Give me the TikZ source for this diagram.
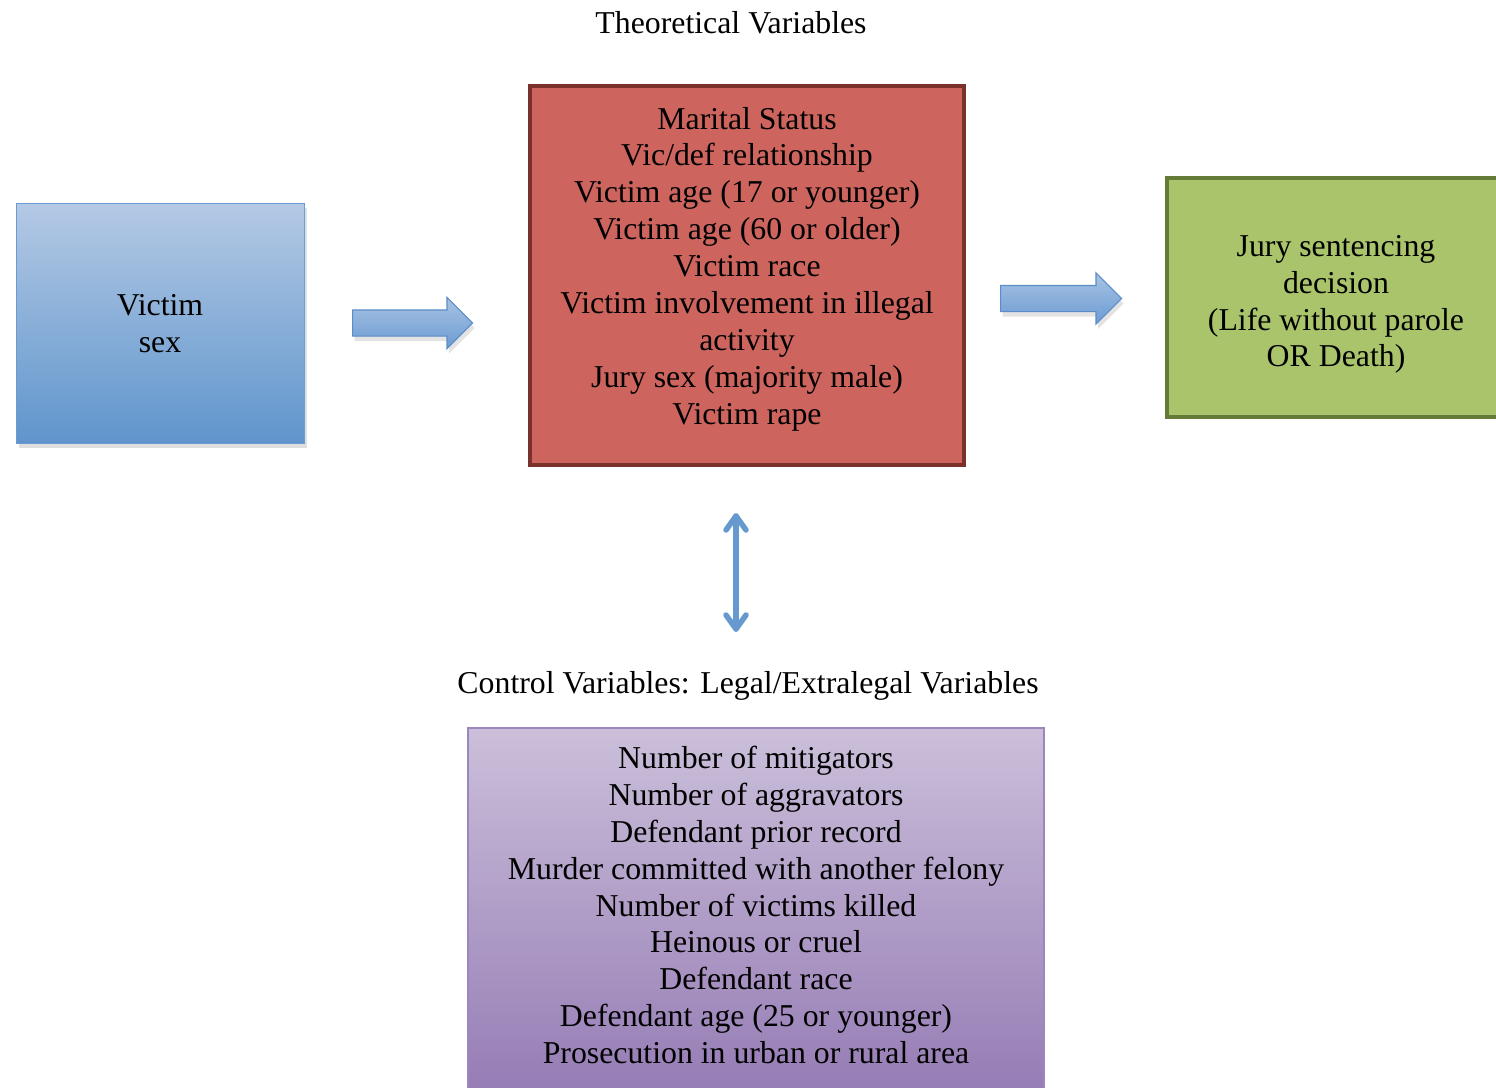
\documentclass[tikz,border=0pt]{standalone}
\usepackage{fontspec}
\setmainfont{Liberation Serif}
\usetikzlibrary{shapes.arrows,shadows,arrows.meta}
\definecolor{bluetop}{HTML}{B4C9E5}
\definecolor{bluebot}{HTML}{5F95CC}
\definecolor{blueline}{HTML}{6C9BD2}
\definecolor{redfill}{HTML}{CD655E}
\definecolor{redline}{HTML}{7A302B}
\definecolor{greenfill}{HTML}{AAC46C}
\definecolor{greenline}{HTML}{667A38}
\definecolor{purptop}{HTML}{CBBFDA}
\definecolor{purpbot}{HTML}{9379B3}
\definecolor{purpline}{HTML}{9D85BE}
\definecolor{arrtop}{HTML}{A8C3E4}
\definecolor{arrbot}{HTML}{6B9BD2}
\definecolor{arrline}{HTML}{5B8DC8}
\definecolor{dblarr}{HTML}{6699CE}
\tikzset{
  txt/.style={font=\fontsize{31.8}{36.9}\selectfont, align=center, inner sep=0pt, text=black},
  boxbase/.style={rectangle, inner sep=0pt},
  blockarrow/.style={single arrow, draw=arrline, line width=1.2pt, top color=arrtop, bottom color=arrbot,
     inner sep=12.5pt, single arrow head extend=12.5pt, single arrow tip angle=90, anchor=tail,
     drop shadow={opacity=0.22, shadow xshift=2pt, shadow yshift=-5pt}},
  dbl/.style={dblarr, line width=5.5pt, line cap=round, line join=round},
}
\begin{document}
\begin{tikzpicture}[x=1pt,y=-1pt]
\useasboundingbox (0,0) rectangle (1496,1087);
% titles
\node[txt, anchor=base] (ttl) at (731,33.5) {Theoretical Variables};
\node[txt, anchor=base] (ctl) at (748,693.5) {Control Variables: Legal/Extralegal Variables};
% victim sex box
\node[boxbase, minimum width=288pt, minimum height=240pt, draw=blueline, line width=1pt,
      top color=bluetop, bottom color=bluebot,
      drop shadow={opacity=0.25, shadow xshift=3pt, shadow yshift=-5pt}] (vs) at (160,323) {};
\node[txt] (vstxt) at (160,324) {Victim\\sex};
% theoretical variables box
\node[boxbase, minimum width=434pt, minimum height=379pt, draw=redline, line width=4pt, fill=redfill] (tv) at (747,275.5) {};
\node[txt] (tvtxt) at (747,269) {Marital Status\\Vic/def relationship\\Victim age (17 or younger)\\Victim age (60 or older)\\Victim race\\Victim involvement in illegal\\activity\\Jury sex (majority male)\\Victim rape};
% outcome box
\node[boxbase, minimum width=338pt, minimum height=239pt, draw=greenline, line width=4pt, fill=greenfill] (jd) at (1336,297.5) {};
\node[txt] (jdtxt) at (1336,304.5) {Jury sentencing\\decision\\(Life without parole\\OR Death)};
% control variables box
\node[boxbase, minimum width=576pt, minimum height=382pt, draw=purpline, line width=1.2pt,
      top color=purptop, bottom color=purpbot] (cv) at (756,919) {};
\node[txt] (cvtxt) at (756,905) {Number of mitigators\\Number of aggravators\\Defendant prior record\\Murder committed with another felony\\Number of victims killed\\Heinous or cruel\\Defendant race\\Defendant age (25 or younger)\\Prosecution in urban or rural area};
% block arrows
\node[blockarrow, minimum height=120pt] (a1) at (352,323) {};
\node[blockarrow, minimum height=121pt] (a2) at (1000,298.5) {};
% double arrow
\coordinate (d1) at (736,516);
\coordinate (d2) at (736,629);
\draw[dbl] (d1) -- (d2);
\draw[dbl] ([xshift=-10pt,yshift=-14pt]d1) -- (d1) -- ([xshift=10pt,yshift=-14pt]d1);
\draw[dbl] ([xshift=-10pt,yshift=14pt]d2) -- (d2) -- ([xshift=10pt,yshift=14pt]d2);
\end{tikzpicture}
\end{document}
